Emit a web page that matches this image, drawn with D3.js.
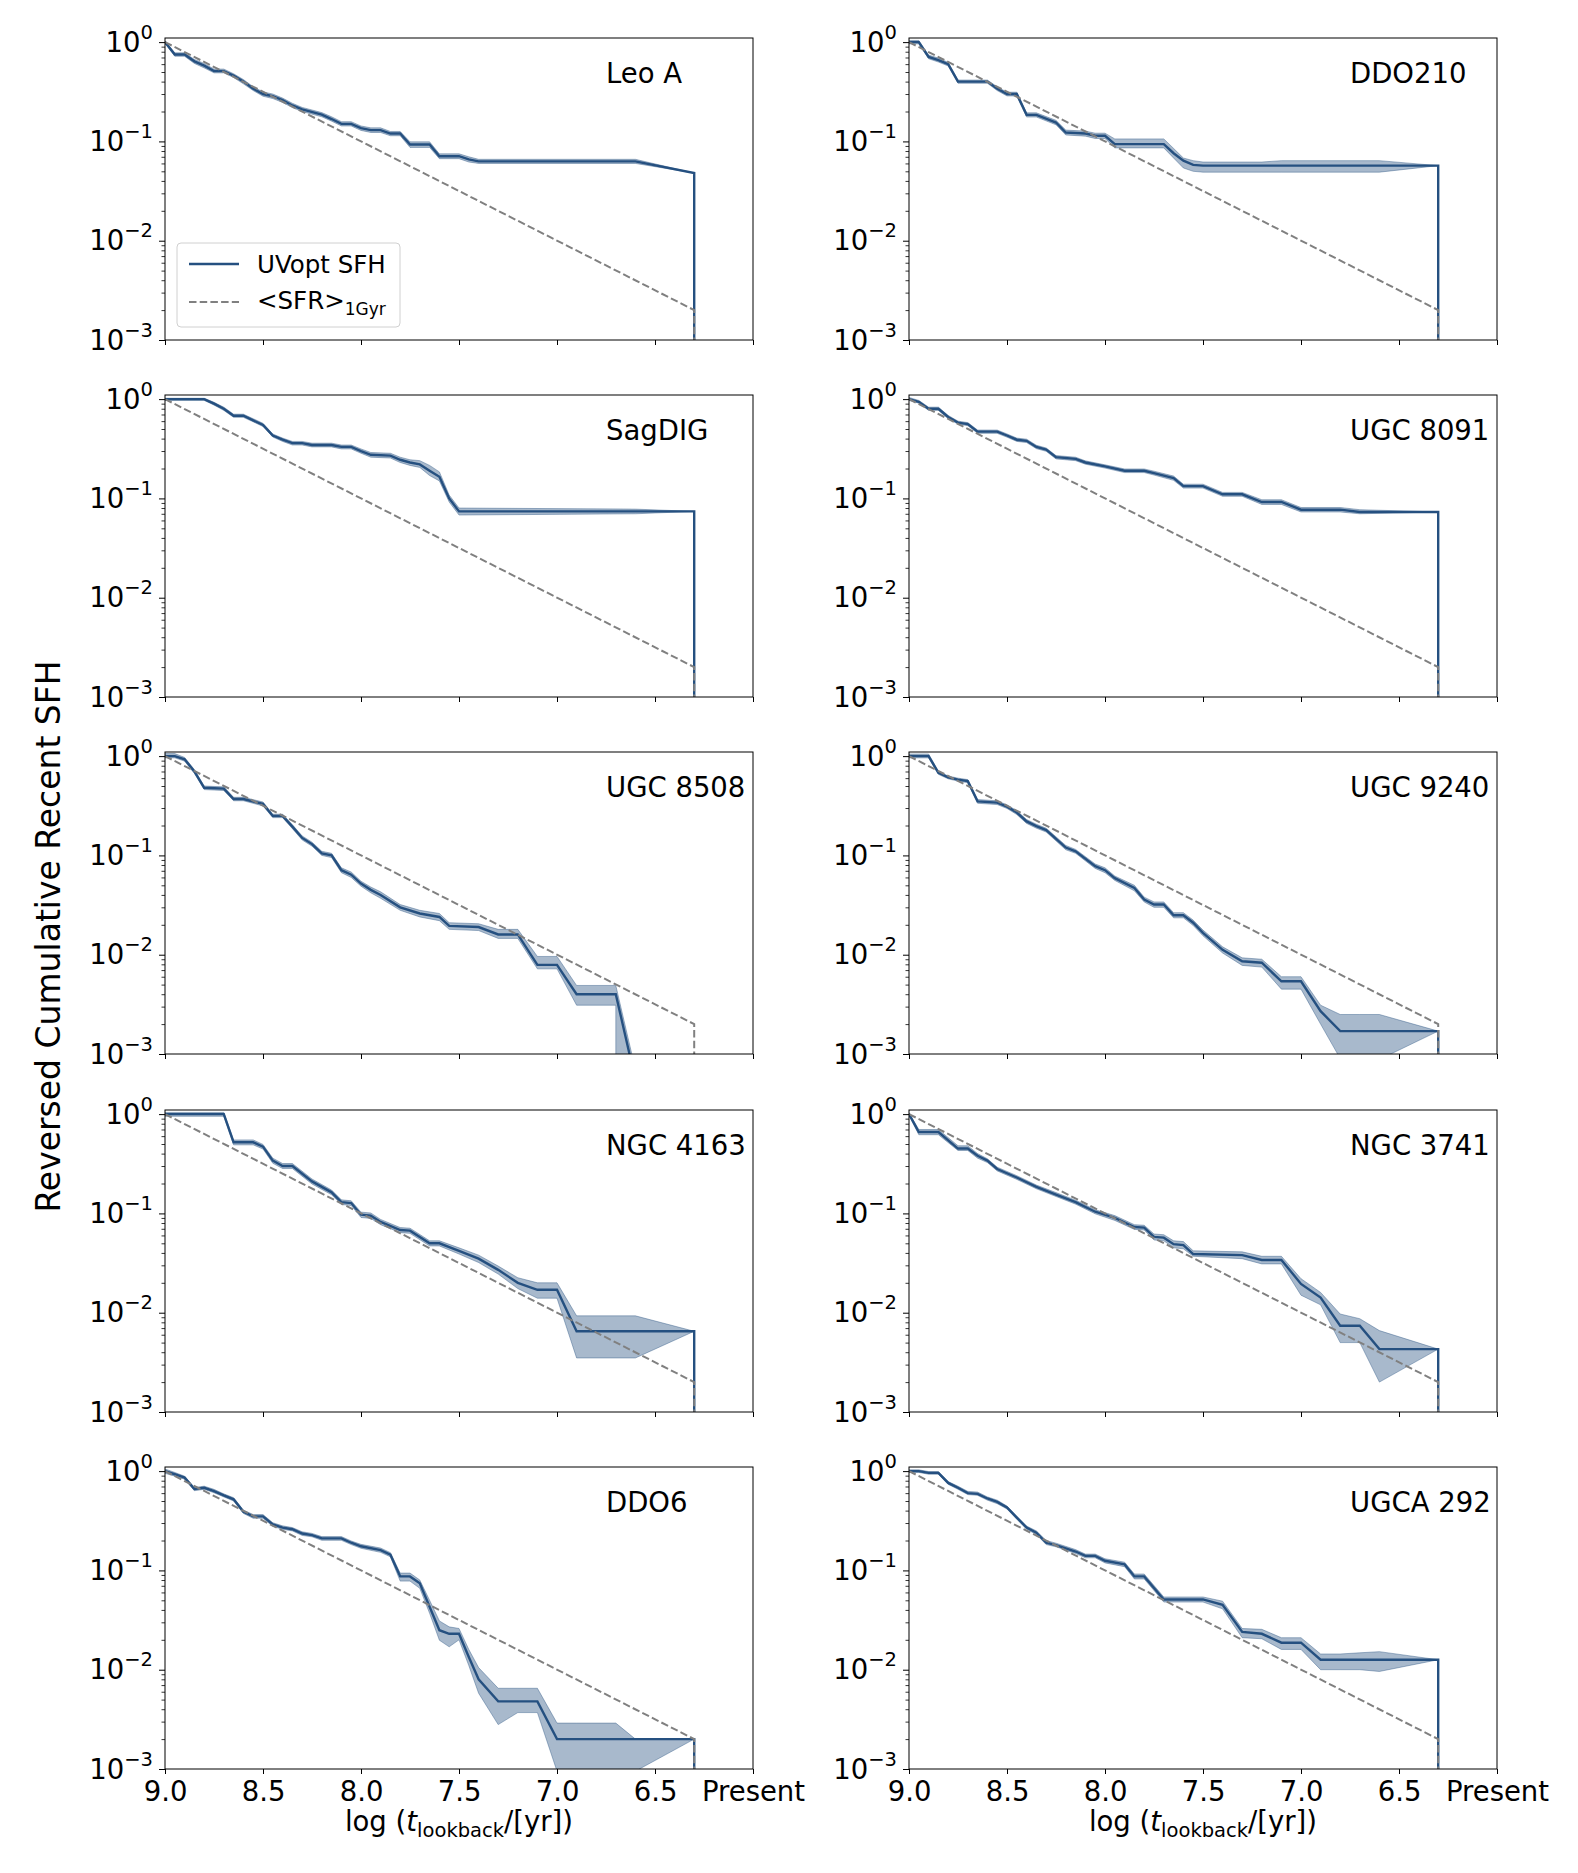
<!DOCTYPE html>
<html>
<head>
<meta charset="utf-8">
<script src="https://cdn.jsdelivr.net/npm/d3@7"></script>
<style>
  body { margin: 0; background: #fff; }
  text { font-family: 'DejaVu Sans', sans-serif; }
</style>
</head>
<body>
<div id="graf"></div>
<script>
// filas: [log t, mediana, inferior, superior]
const leoA = [
  [9.0, 1.0, 0.97, 1.02], [8.95, 0.75, 0.72, 0.78], [8.9, 0.75, 0.72, 0.78], [8.85, 0.64, 0.61, 0.67],
  [8.8, 0.58, 0.55, 0.61], [8.75, 0.51, 0.49, 0.535], [8.7, 0.51, 0.49, 0.535], [8.65, 0.46, 0.44, 0.48],
  [8.6, 0.40, 0.38, 0.42], [8.55, 0.34, 0.325, 0.355], [8.5, 0.30, 0.285, 0.315], [8.45, 0.285, 0.27, 0.30],
  [8.4, 0.26, 0.247, 0.273], [8.35, 0.23, 0.219, 0.242], [8.3, 0.21, 0.2, 0.22], [8.2, 0.186, 0.177, 0.195],
  [8.15, 0.168, 0.16, 0.177], [8.1, 0.15, 0.143, 0.158], [8.05, 0.15, 0.143, 0.158], [8.0, 0.136, 0.129, 0.143],
  [7.95, 0.13, 0.123, 0.137], [7.9, 0.13, 0.123, 0.137], [7.85, 0.12, 0.114, 0.126], [7.8, 0.12, 0.114, 0.126],
  [7.75, 0.093, 0.087, 0.099], [7.65, 0.093, 0.087, 0.099], [7.6, 0.071, 0.067, 0.075], [7.5, 0.071, 0.067, 0.075],
  [7.45, 0.066, 0.062, 0.07], [7.4, 0.063, 0.06, 0.066], [6.6, 0.063, 0.06, 0.066], [6.3, 0.048, 0.048, 0.048],
  [6.3, 0, 0, 0]
]
const ddo210 = [
  [9.0, 1.0, 0.96, 1.04], [8.95, 1.0, 0.96, 1.04], [8.9, 0.71, 0.68, 0.74], [8.85, 0.66, 0.63, 0.69],
  [8.8, 0.60, 0.575, 0.625], [8.75, 0.40, 0.385, 0.415], [8.6, 0.40, 0.385, 0.415], [8.55, 0.34, 0.325, 0.355],
  [8.5, 0.30, 0.287, 0.313], [8.45, 0.30, 0.287, 0.313], [8.4, 0.185, 0.176, 0.194], [8.35, 0.185, 0.176, 0.194],
  [8.25, 0.155, 0.147, 0.163], [8.2, 0.123, 0.116, 0.13], [8.1, 0.12, 0.113, 0.127], [8.05, 0.114, 0.107, 0.121],
  [8.0, 0.114, 0.107, 0.121], [7.95, 0.094, 0.086, 0.106], [7.7, 0.094, 0.086, 0.106], [7.65, 0.076, 0.068, 0.085],
  [7.6, 0.064, 0.054, 0.068], [7.55, 0.058, 0.05, 0.064], [7.5, 0.057, 0.049, 0.062], [7.2, 0.057, 0.049, 0.062],
  [7.1, 0.057, 0.049, 0.064], [6.6, 0.057, 0.049, 0.064], [6.3, 0.057, 0.057, 0.057], [6.3, 0, 0, 0]
]
const sagDIG = [
  [9.0, 1.0, 0.97, 1.02], [8.8, 1.0, 0.97, 1.02], [8.75, 0.9, 0.87, 0.93], [8.7, 0.80, 0.77, 0.83],
  [8.65, 0.68, 0.655, 0.705], [8.6, 0.68, 0.655, 0.705], [8.55, 0.61, 0.59, 0.635], [8.5, 0.55, 0.53, 0.57],
  [8.45, 0.43, 0.415, 0.445], [8.4, 0.39, 0.375, 0.405], [8.35, 0.36, 0.345, 0.375], [8.3, 0.36, 0.345, 0.375],
  [8.25, 0.345, 0.33, 0.36], [8.15, 0.345, 0.33, 0.36], [8.1, 0.33, 0.315, 0.345], [8.05, 0.33, 0.315, 0.345],
  [8.0, 0.30, 0.285, 0.315], [7.95, 0.275, 0.26, 0.29], [7.85, 0.27, 0.255, 0.285], [7.8, 0.245, 0.23, 0.26],
  [7.75, 0.23, 0.215, 0.245], [7.7, 0.22, 0.205, 0.24], [7.65, 0.19, 0.17, 0.215], [7.6, 0.165, 0.15, 0.185],
  [7.55, 0.1, 0.092, 0.108], [7.5, 0.074, 0.068, 0.08], [6.6, 0.074, 0.07, 0.078], [6.3, 0.074, 0.074, 0.074],
  [6.3, 0, 0, 0]
]
const ugc8091 = [
  [9.0, 1.0, 0.97, 1.04], [8.95, 0.94, 0.91, 0.97], [8.9, 0.80, 0.77, 0.83], [8.85, 0.80, 0.77, 0.83],
  [8.8, 0.66, 0.635, 0.685], [8.75, 0.58, 0.56, 0.60], [8.7, 0.56, 0.54, 0.58], [8.65, 0.47, 0.452, 0.488],
  [8.55, 0.47, 0.452, 0.488], [8.5, 0.43, 0.414, 0.446], [8.45, 0.39, 0.375, 0.405], [8.4, 0.38, 0.365, 0.395],
  [8.35, 0.33, 0.317, 0.343], [8.3, 0.31, 0.298, 0.322], [8.25, 0.26, 0.25, 0.27], [8.15, 0.25, 0.24, 0.26],
  [8.1, 0.23, 0.221, 0.239], [8.0, 0.21, 0.202, 0.218], [7.9, 0.19, 0.182, 0.198], [7.8, 0.19, 0.182, 0.198],
  [7.75, 0.18, 0.172, 0.188], [7.65, 0.16, 0.152, 0.168], [7.6, 0.133, 0.127, 0.139], [7.5, 0.133, 0.127, 0.139],
  [7.4, 0.11, 0.105, 0.115], [7.3, 0.11, 0.105, 0.115], [7.2, 0.092, 0.087, 0.097], [7.1, 0.092, 0.087, 0.097],
  [7.0, 0.077, 0.073, 0.081], [6.8, 0.077, 0.073, 0.081], [6.7, 0.073, 0.07, 0.077], [6.3, 0.073, 0.073, 0.073],
  [6.3, 0, 0, 0]
]
const ugc8508 = [
  [9.0, 1.0, 0.96, 1.06], [8.95, 1.0, 0.96, 1.06], [8.9, 0.93, 0.89, 0.97], [8.85, 0.70, 0.67, 0.73],
  [8.8, 0.48, 0.46, 0.50], [8.7, 0.47, 0.45, 0.49], [8.65, 0.37, 0.355, 0.385], [8.6, 0.37, 0.355, 0.385],
  [8.5, 0.33, 0.315, 0.345], [8.45, 0.25, 0.24, 0.26], [8.4, 0.25, 0.24, 0.26], [8.35, 0.195, 0.186, 0.204],
  [8.3, 0.15, 0.143, 0.157], [8.25, 0.13, 0.124, 0.136], [8.2, 0.105, 0.1, 0.11], [8.15, 0.1, 0.095, 0.105],
  [8.1, 0.071, 0.067, 0.075], [8.05, 0.064, 0.06, 0.068], [8.0, 0.052, 0.049, 0.055], [7.95, 0.045, 0.042, 0.048],
  [7.9, 0.040, 0.037, 0.043], [7.8, 0.030, 0.028, 0.032], [7.7, 0.026, 0.024, 0.028], [7.6, 0.024, 0.022, 0.026],
  [7.55, 0.0195, 0.018, 0.021], [7.4, 0.019, 0.0175, 0.0205], [7.3, 0.016, 0.0146, 0.018], [7.2, 0.016, 0.0146, 0.018],
  [7.1, 0.0079, 0.0072, 0.0096], [7.0, 0.0079, 0.0072, 0.0096], [6.9, 0.004, 0.0031, 0.0049], [6.7, 0.004, 0.0031, 0.0049],
  [6.7, 0.004, 0, 0.0049], [6.6, 0.00055, 0, 0.0007], [6.3, 0, 0, 0]
]
const ugc9240 = [
  [9.0, 1.0, 0.96, 1.05], [8.9, 1.0, 0.96, 1.05], [8.85, 0.68, 0.655, 0.705], [8.8, 0.61, 0.59, 0.63],
  [8.75, 0.58, 0.56, 0.60], [8.7, 0.56, 0.54, 0.58], [8.65, 0.35, 0.335, 0.365], [8.55, 0.34, 0.325, 0.355],
  [8.5, 0.31, 0.297, 0.323], [8.45, 0.27, 0.258, 0.282], [8.4, 0.22, 0.21, 0.23], [8.35, 0.197, 0.188, 0.206],
  [8.3, 0.18, 0.172, 0.188], [8.2, 0.12, 0.114, 0.126], [8.15, 0.11, 0.105, 0.115], [8.05, 0.078, 0.074, 0.082],
  [8.0, 0.071, 0.067, 0.075], [7.95, 0.059, 0.056, 0.062], [7.85, 0.047, 0.044, 0.05], [7.8, 0.036, 0.034, 0.038],
  [7.75, 0.032, 0.030, 0.034], [7.7, 0.032, 0.030, 0.034], [7.65, 0.025, 0.0235, 0.0265], [7.6, 0.025, 0.0235, 0.0265],
  [7.55, 0.021, 0.0197, 0.0223], [7.5, 0.0166, 0.0155, 0.0177], [7.4, 0.0112, 0.0104, 0.012], [7.3, 0.0086, 0.0078, 0.0093],
  [7.2, 0.0083, 0.0075, 0.009], [7.1, 0.0054, 0.0045, 0.006], [7.0, 0.0054, 0.0045, 0.006], [6.9, 0.0027, 0.002, 0.0031],
  [6.8, 0.0017, 0.0009, 0.0025], [6.7, 0.0017, 0.0004, 0.0025], [6.6, 0.0017, 0.00088, 0.0025], [6.3, 0.0017, 0.0017, 0.0017],
  [6.3, 0, 0, 0]
]
const ngc4163 = [
  [9.0, 1.0, 0.95, 1.04], [8.7, 1.0, 0.95, 1.04], [8.65, 0.52, 0.49, 0.55], [8.55, 0.52, 0.49, 0.55],
  [8.5, 0.47, 0.445, 0.495], [8.45, 0.34, 0.32, 0.36], [8.4, 0.30, 0.283, 0.318], [8.35, 0.30, 0.283, 0.318],
  [8.25, 0.21, 0.198, 0.222], [8.15, 0.163, 0.154, 0.172], [8.1, 0.13, 0.123, 0.137], [8.05, 0.127, 0.12, 0.134],
  [8.0, 0.097, 0.091, 0.103], [7.95, 0.095, 0.089, 0.101], [7.9, 0.082, 0.077, 0.087], [7.8, 0.068, 0.064, 0.072],
  [7.75, 0.067, 0.063, 0.071], [7.65, 0.05, 0.047, 0.053], [7.6, 0.05, 0.047, 0.053], [7.5, 0.042, 0.039, 0.045],
  [7.4, 0.035, 0.032, 0.038], [7.3, 0.027, 0.0245, 0.0295], [7.2, 0.02, 0.0175, 0.0225], [7.1, 0.017, 0.014, 0.02],
  [7.0, 0.017, 0.014, 0.02], [6.9, 0.0065, 0.0035, 0.0093], [6.6, 0.0065, 0.0035, 0.0093], [6.3, 0.0065, 0.0065, 0.0065],
  [6.3, 0, 0, 0]
]
const ngc3741 = [
  [9.0, 1.0, 0.97, 1.03], [8.95, 0.66, 0.62, 0.70], [8.85, 0.66, 0.62, 0.70], [8.75, 0.45, 0.43, 0.48],
  [8.7, 0.45, 0.43, 0.48], [8.65, 0.38, 0.36, 0.40], [8.6, 0.34, 0.325, 0.355], [8.55, 0.28, 0.268, 0.292],
  [8.45, 0.23, 0.22, 0.24], [8.35, 0.185, 0.177, 0.193], [8.25, 0.155, 0.148, 0.162], [8.15, 0.13, 0.124, 0.136],
  [8.05, 0.104, 0.099, 0.109], [7.95, 0.09, 0.085, 0.095], [7.85, 0.073, 0.069, 0.077], [7.8, 0.072, 0.068, 0.076],
  [7.75, 0.058, 0.054, 0.062], [7.7, 0.057, 0.053, 0.061], [7.65, 0.049, 0.045, 0.053], [7.6, 0.048, 0.044, 0.052],
  [7.55, 0.039, 0.037, 0.042], [7.3, 0.038, 0.035, 0.041], [7.2, 0.034, 0.031, 0.037], [7.1, 0.034, 0.031, 0.037],
  [7.0, 0.0195, 0.015, 0.022], [6.9, 0.0142, 0.012, 0.016], [6.8, 0.0074, 0.005, 0.0097], [6.7, 0.0074, 0.005, 0.0087],
  [6.6, 0.0043, 0.002, 0.0066], [6.3, 0.0043, 0.0043, 0.0043], [6.3, 0, 0, 0]
]
const ddo6 = [
  [9.0, 1.0, 0.95, 1.05], [8.95, 0.93, 0.89, 0.97], [8.9, 0.86, 0.83, 0.89], [8.85, 0.66, 0.635, 0.685],
  [8.8, 0.68, 0.655, 0.705], [8.75, 0.63, 0.605, 0.655], [8.7, 0.57, 0.55, 0.59], [8.65, 0.52, 0.50, 0.54],
  [8.6, 0.39, 0.375, 0.405], [8.55, 0.35, 0.335, 0.365], [8.5, 0.35, 0.335, 0.365], [8.45, 0.29, 0.278, 0.302],
  [8.4, 0.27, 0.259, 0.281], [8.35, 0.26, 0.25, 0.27], [8.3, 0.235, 0.225, 0.245], [8.25, 0.227, 0.218, 0.236],
  [8.2, 0.21, 0.201, 0.219], [8.1, 0.21, 0.201, 0.219], [8.05, 0.19, 0.182, 0.198], [8.0, 0.175, 0.167, 0.183],
  [7.9, 0.16, 0.152, 0.168], [7.85, 0.144, 0.137, 0.151], [7.8, 0.087, 0.078, 0.094], [7.75, 0.087, 0.078, 0.094],
  [7.7, 0.074, 0.066, 0.08], [7.65, 0.043, 0.037, 0.05], [7.6, 0.025, 0.0198, 0.031], [7.55, 0.023, 0.017, 0.027],
  [7.5, 0.023, 0.02, 0.026], [7.45, 0.0134, 0.011, 0.016], [7.4, 0.008, 0.0058, 0.0105], [7.3, 0.0048, 0.0028, 0.0065],
  [7.2, 0.0048, 0.0037, 0.0065], [7.1, 0.0048, 0.0037, 0.0065], [7.0, 0.002, 0.00095, 0.0029], [6.9, 0.002, 0.0003, 0.0029],
  [6.7, 0.002, 0.0003, 0.0029], [6.6, 0.002, 0.00095, 0.002], [6.3, 0.002, 0.002, 0.002], [6.3, 0, 0, 0]
]
const ugca292 = [
  [9.0, 1.0, 0.97, 1.03], [8.95, 1.0, 0.97, 1.03], [8.9, 0.96, 0.93, 0.99], [8.85, 0.96, 0.93, 0.99],
  [8.8, 0.76, 0.735, 0.785], [8.75, 0.68, 0.655, 0.705], [8.7, 0.60, 0.58, 0.625], [8.65, 0.59, 0.57, 0.615],
  [8.6, 0.53, 0.51, 0.55], [8.55, 0.49, 0.47, 0.51], [8.5, 0.43, 0.415, 0.445], [8.45, 0.34, 0.328, 0.352],
  [8.4, 0.27, 0.26, 0.28], [8.35, 0.24, 0.23, 0.25], [8.3, 0.19, 0.182, 0.2], [8.25, 0.18, 0.173, 0.188],
  [8.15, 0.155, 0.148, 0.162], [8.1, 0.14, 0.134, 0.146], [8.05, 0.14, 0.134, 0.146], [8.0, 0.125, 0.119, 0.131],
  [7.9, 0.115, 0.109, 0.121], [7.85, 0.087, 0.082, 0.092], [7.8, 0.087, 0.082, 0.092], [7.7, 0.051, 0.048, 0.054],
  [7.5, 0.051, 0.048, 0.054], [7.4, 0.045, 0.041, 0.049], [7.3, 0.024, 0.021, 0.026], [7.2, 0.023, 0.0205, 0.0255],
  [7.1, 0.0187, 0.016, 0.021], [7.0, 0.0187, 0.016, 0.021], [6.9, 0.0126, 0.01, 0.0144], [6.8, 0.0126, 0.01, 0.0144],
  [6.7, 0.0126, 0.01, 0.0148], [6.6, 0.0126, 0.0096, 0.0152], [6.3, 0.0126, 0.0126, 0.0126], [6.3, 0, 0, 0]
]

const nombres = ['Leo A', 'DDO210', 'SagDIG', 'UGC 8091', 'UGC 8508', 'UGC 9240', 'NGC 4163', 'NGC 3741', 'DDO6', 'UGCA 292']
const series = [leoA, ddo210, sagDIG, ugc8091, ugc8508, ugc9240, ngc4163, ngc3741, ddo6, ugca292]

// <SFR>_1Gyr de referencia
const refX = [9.0, 6.3, 6.3]
const refY = [1.0, 0.002, 0]

const xTicks = [9.0, 8.5, 8.0, 7.5, 7.0, 6.5, 6.0]
const xTickLabels = ['9.0', '8.5', '8.0', '7.5', '7.0', '6.5', 'Present']
const yTicks = [1, 0.1, 0.01, 0.001]
const yExpon = ['0', '\u22121', '\u22122', '\u22123']
const yMinor = [0.002, 0.003, 0.004, 0.005, 0.006, 0.007, 0.008, 0.009,
  0.02, 0.03, 0.04, 0.05, 0.06, 0.07, 0.08, 0.09,
  0.2, 0.3, 0.4, 0.5, 0.6, 0.7, 0.8, 0.9]

const anchoTotal = 1578
const altoTotal = 1873
const colX = [165, 909]
const filaY = [38, 395, 752, 1110, 1467]
const ancho = 588
const alto = 302
const azul = '#255080'
const fuente = 27.5

const svg = d3.select('#graf')
  .append('svg')
  .attr('width', anchoTotal)
  .attr('height', altoTotal)

const x = d3.scaleLinear().domain([9, 6]).range([0, ancho])
const y = d3.scaleLog().domain([1e-3, 1.1]).range([alto, 0])

const piso = v => Math.max(v, 1e-7)
const linea = d3.line().x(d => x(d[0])).y(d => y(piso(d[1])))
const banda = d3.area()
  .x(d => x(d[0]))
  .y0(d => y(piso(d[2])))
  .y1(d => y(piso(d[3])))

series.forEach((datos, i) => {
  const fila = Math.floor(i / 2)
  const g = svg.append('g')
    .attr('transform', `translate(${colX[i % 2]}, ${filaY[fila]})`)

  g.append('clipPath').attr('id', 'clip' + i)
    .append('rect').attr('width', ancho).attr('height', alto)

  const capa = g.append('g').attr('clip-path', `url(#clip${i})`)

  capa.append('path')
    .datum(datos)
    .attr('d', banda)
    .attr('fill', azul)
    .attr('fill-opacity', 0.4)
    .attr('stroke', azul)
    .attr('stroke-opacity', 0.4)
    .attr('stroke-width', 1)

  capa.append('path')
    .datum(datos)
    .attr('d', linea)
    .attr('fill', 'none')
    .attr('stroke', azul)
    .attr('stroke-width', 2.4)

  capa.append('path')
    .datum(d3.zip(refX, refY))
    .attr('d', linea)
    .attr('fill', 'none')
    .attr('stroke', '#808080')
    .attr('stroke-width', 2)
    .attr('stroke-dasharray', '7.5,3.2')

  // eje x
  const ejeX = g.append('g')
    .attr('transform', `translate(0, ${alto})`)
    .call(d3.axisBottom(x)
      .tickValues(xTicks)
      .tickSize(5)
      .tickPadding(7)
      .tickFormat((d, j) => fila === 4 ? xTickLabels[j] : ''))
  ejeX.select('.domain').remove()
  ejeX.attr('font-size', fuente).attr('font-family', 'DejaVu Sans')
  ejeX.selectAll('text').attr('fill', '#000')

  // eje y: menores y mayores
  const ejeYm = g.append('g')
    .call(d3.axisLeft(y).tickValues(yMinor).tickSize(3.5).tickFormat(''))
  ejeYm.select('.domain').remove()
  ejeYm.selectAll('line').attr('stroke-width', 0.8)

  const ejeY = g.append('g')
    .call(d3.axisLeft(y).tickValues(yTicks).tickSize(6).tickFormat(''))
  ejeY.select('.domain').remove()

  yTicks.forEach((t, j) => {
    const txt = g.append('text')
      .attr('x', -12)
      .attr('y', y(t) + 9.5)
      .attr('text-anchor', 'end')
      .attr('font-size', fuente)
    txt.append('tspan').text('10')
    txt.append('tspan')
      .attr('dy', -13)
      .attr('font-size', 19.5)
      .text(yExpon[j])
  })

  // marco
  g.append('rect')
    .attr('width', ancho)
    .attr('height', alto)
    .attr('fill', 'none')
    .attr('stroke', '#000')
    .attr('stroke-width', 1)

  g.append('text')
    .attr('x', ancho * 0.75)
    .attr('y', 45)
    .attr('font-size', fuente)
    .text(nombres[i])

  if (fila === 4) {
    const etiq = g.append('text')
      .attr('x', ancho / 2)
      .attr('y', alto + 62)
      .attr('text-anchor', 'middle')
      .attr('font-size', fuente)
    etiq.append('tspan').text('log (')
    etiq.append('tspan').attr('font-style', 'italic').text('t')
    etiq.append('tspan').attr('font-size', 19.5).attr('dy', 6).text('lookback')
    etiq.append('tspan').attr('dy', -6).text('/[yr])')
  }

  if (i === 0) {
    const ley = g.append('g').attr('transform', 'translate(12, 205)')
    ley.append('rect')
      .attr('width', 223)
      .attr('height', 84)
      .attr('rx', 4)
      .attr('fill', '#fff')
      .attr('fill-opacity', 0.8)
      .attr('stroke', '#d0d0d0')
    ley.append('line')
      .attr('x1', 12).attr('x2', 62)
      .attr('y1', 21).attr('y2', 21)
      .attr('stroke', azul)
      .attr('stroke-width', 2.4)
    ley.append('line')
      .attr('x1', 12).attr('x2', 62)
      .attr('y1', 59).attr('y2', 59)
      .attr('stroke', '#808080')
      .attr('stroke-width', 2)
      .attr('stroke-dasharray', '7.5,3.2')
    ley.append('text')
      .attr('x', 80).attr('y', 30)
      .attr('font-size', 24.5)
      .text('UVopt SFH')
    const t2 = ley.append('text')
      .attr('x', 80).attr('y', 66)
      .attr('font-size', 24.5)
    t2.append('tspan').text('<SFR>')
    t2.append('tspan').attr('font-size', 17).attr('dy', 6).text('1Gyr')
  }
})

svg.append('text')
  .attr('transform', `translate(60, ${altoTotal / 2}) rotate(-90)`)
  .attr('text-anchor', 'middle')
  .attr('font-size', 33)
  .text('Reversed Cumulative Recent SFH')
</script>
</body>
</html>
